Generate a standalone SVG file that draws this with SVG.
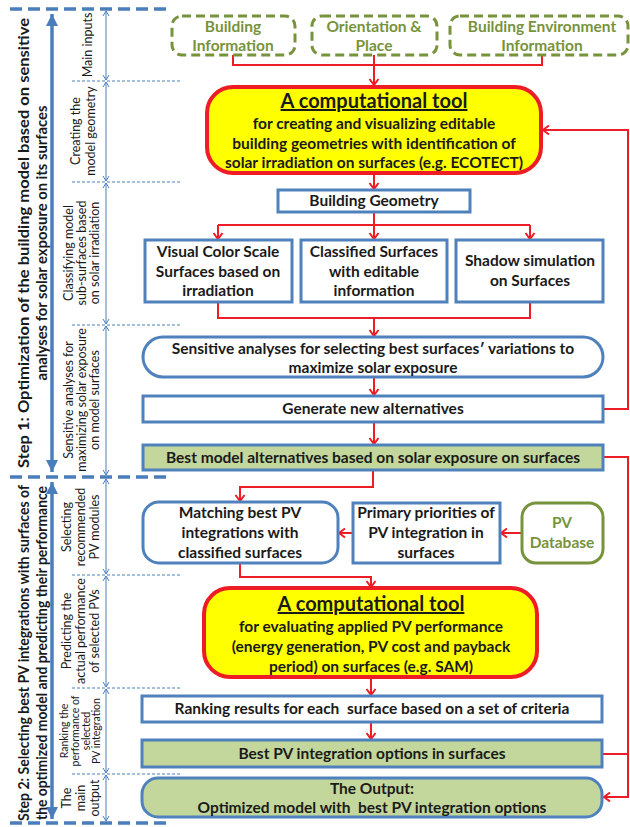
<svg xmlns="http://www.w3.org/2000/svg" width="630" height="827" viewBox="0 0 630 827">
<style>
.box{fill:#fff;stroke:#4f81bd;stroke-width:3}
.green{fill:#c3d69b;stroke:#4f81bd;stroke-width:3}
.tool{fill:#ffff00;stroke:#ee1c24;stroke-width:4}
.input{fill:#fff;stroke:#77933c;stroke-width:3;stroke-dasharray:9 5}
.pvdb{fill:#fff;stroke:#77933c;stroke-width:3}
.t{font-family:Lato,"Liberation Sans",sans-serif;font-weight:bold;font-size:15.5px;fill:#1a1a1a;text-anchor:middle}
.ol{fill:#77933c}
.title{font-size:20px;text-decoration:underline}
.lbl{font-weight:normal;font-size:12.5px}
.sm{font-size:10.5px}
.step{font-size:15px}
.red{fill:none;stroke:#ee1c24;stroke-width:2}
.thick{stroke:#4a7ebb;stroke-width:3.5;fill:none}
.dash{stroke:#4a7ebb;stroke-width:3.5;stroke-dasharray:12 6;fill:none}
.thin{stroke:#4a7ebb;stroke-width:1;fill:none}
.dot{stroke:#4a7ebb;stroke-width:1;stroke-dasharray:3 2;fill:none}
</style>
<defs>
<marker id="ra" markerUnits="userSpaceOnUse" markerWidth="12" markerHeight="12" refX="10" refY="6" orient="auto"><path d="M4,1.5 L10,6 L4,10.5" fill="none" stroke="#ee1c24" stroke-width="2"/></marker>
<marker id="ba" markerUnits="userSpaceOnUse" markerWidth="14" markerHeight="14" refX="12" refY="7" orient="auto-start-reverse"><path d="M0,1 L12,7 L0,13 Z" fill="#4a7ebb"/></marker>
<marker id="ta" markerUnits="userSpaceOnUse" markerWidth="8" markerHeight="8" refX="7" refY="4" orient="auto-start-reverse"><path d="M2,1 L7,4 L2,7" fill="none" stroke="#4a7ebb" stroke-width="1"/></marker>
</defs>
<rect width="630" height="827" fill="#fff"/>

<g id="left-frame">
<path class="dash" d="M10,9 H168 M10,477 H168 M10,823 H168"/>
<path class="thick" d="M52,14 V472" marker-start="url(#ba)" marker-end="url(#ba)"/>
<path class="thick" d="M52,482 V819" marker-start="url(#ba)" marker-end="url(#ba)"/>
<path class="dot" d="M72,81 H182 M72,182 H182 M72,325 H182 M72,575 H182 M72,688 H182 M72,774 H182"/>
<g marker-start="url(#ta)" marker-end="url(#ta)" class="thin">
<path d="M106,11 V80"/><path d="M106,82 V181"/><path d="M106,183 V324"/><path d="M106,326 V475"/>
<path d="M106,479 V574"/><path d="M106,576 V687"/><path d="M106,689 V773"/><path d="M106,775 V821"/>
</g>
<text class="t step" transform="translate(29,243) rotate(-90)" textLength="450" lengthAdjust="spacingAndGlyphs">Step 1: Optimization of the building model based on sensitive</text>
<text class="t step" transform="translate(47,243) rotate(-90)" textLength="275" lengthAdjust="spacingAndGlyphs">analyses for solar exposure on its surfaces</text>
<text class="t step" transform="translate(29,653) rotate(-90)" textLength="336" lengthAdjust="spacingAndGlyphs">Step 2: Selecting best PV integrations with surfaces of</text>
<text class="t step" transform="translate(47,653) rotate(-90)" textLength="334" lengthAdjust="spacingAndGlyphs">the optimized model and predicting their performance</text>
<text class="t lbl" transform="translate(92,45) rotate(-90)">Main inputs</text>
<text class="t lbl" transform="translate(80,131) rotate(-90)">Creating the</text>
<text class="t lbl" transform="translate(95,131) rotate(-90)">model geometry</text>
<text class="t lbl" transform="translate(73,253) rotate(-90)">Classifying model</text>
<text class="t lbl" transform="translate(86,253) rotate(-90)">sub-surfaces based</text>
<text class="t lbl" transform="translate(99,253) rotate(-90)">on solar irradiation</text>
<text class="t lbl" transform="translate(73,400) rotate(-90)">Sensitive analyses for</text>
<text class="t lbl" transform="translate(86,400) rotate(-90)">maximizing solar exposure</text>
<text class="t lbl" transform="translate(99,400) rotate(-90)">on model surfaces</text>
<text class="t lbl" transform="translate(71,527) rotate(-90)">Selecting</text>
<text class="t lbl" transform="translate(85,527) rotate(-90)">recommended</text>
<text class="t lbl" transform="translate(99,527) rotate(-90)">PV modules</text>
<text class="t lbl" transform="translate(71,631) rotate(-90)">Predicting the</text>
<text class="t lbl" transform="translate(85,631) rotate(-90)">actual performance</text>
<text class="t lbl" transform="translate(99,631) rotate(-90)">of selected PVs</text>
<text class="t lbl sm" transform="translate(68,731) rotate(-90)">Ranking the</text>
<text class="t lbl sm" transform="translate(79,731) rotate(-90)">performance of</text>
<text class="t lbl sm" transform="translate(90,731) rotate(-90)">selected</text>
<text class="t lbl sm" transform="translate(100,731) rotate(-90)">PV integration</text>
<text class="t lbl" transform="translate(71,798) rotate(-90)">The</text>
<text class="t lbl" transform="translate(85,798) rotate(-90)">main</text>
<text class="t lbl" transform="translate(99,798) rotate(-90)">output</text>
</g>

<g id="connectors">
<path class="red" d="M233,55 V65 H542 V55"/>
<path class="red" d="M374,55 V85" marker-end="url(#ra)"/>
<path class="red" d="M374,173 V189" marker-end="url(#ra)"/>
<path class="red" d="M374,212 V225 M218,225 H530"/>
<path class="red" d="M218,225 V239" marker-end="url(#ra)"/>
<path class="red" d="M374,225 V239" marker-end="url(#ra)"/>
<path class="red" d="M530,225 V239" marker-end="url(#ra)"/>
<path class="red" d="M218,302 V318 H530 V302"/>
<path class="red" d="M374,318 V336" marker-end="url(#ra)"/>
<path class="red" d="M374,377 V395" marker-end="url(#ra)"/>
<path class="red" d="M374,422 V444" marker-end="url(#ra)"/>
<path class="red" d="M373,470 V487 H240 V501" marker-end="url(#ra)"/>
<path class="red" d="M603,409 H628 V130 H543" marker-end="url(#ra)"/>
<path class="red" d="M603,457 H628 V797 H604" marker-end="url(#ra)"/>
<path class="red" d="M602,754 H628"/>
<path class="red" d="M522,533 H501" marker-end="url(#ra)"/>
<path class="red" d="M353,533 H339" marker-end="url(#ra)"/>
<path class="red" d="M240,563 V577 H371 V587" marker-end="url(#ra)"/>
<path class="red" d="M371,677 V695" marker-end="url(#ra)"/>
<path class="red" d="M371,722 V739" marker-end="url(#ra)"/>
</g>

<g id="building-information">
<rect class="input" x="172" y="16" width="123" height="39" rx="10"/>
<text class="t ol" x="233" y="32">Building</text>
<text class="t ol" x="233" y="51">Information</text>
</g>
<g id="orientation-place">
<rect class="input" x="312" y="16" width="125" height="39" rx="10"/>
<text class="t ol" x="374" y="32">Orientation &amp;</text>
<text class="t ol" x="374" y="51">Place</text>
</g>
<g id="building-environment">
<rect class="input" x="450" y="16" width="178" height="39" rx="10"/>
<text class="t ol" x="542" y="32">Building Environment</text>
<text class="t ol" x="542" y="51">Information</text>
</g>

<g id="tool1">
<rect class="tool" x="207" y="87" width="334" height="86" rx="26"/>
<text class="t title" x="374" y="108">A computational tool</text>
<text class="t" x="374" y="129">for creating and visualizing editable</text>
<text class="t" x="374" y="149">building geometries with identification of</text>
<text class="t" x="374" y="168">solar irradiation on surfaces (e.g. ECOTECT)</text>
</g>

<g id="building-geometry">
<rect class="box" x="278" y="190" width="192" height="22"/>
<text class="t" x="374" y="206">Building Geometry</text>
</g>

<g id="visual-color">
<rect class="box" x="145" y="240" width="147" height="62"/>
<text class="t" x="218" y="257">Visual Color Scale</text>
<text class="t" x="218" y="277">Surfaces based on</text>
<text class="t" x="218" y="296">irradiation</text>
</g>
<g id="classified-surfaces">
<rect class="box" x="301" y="240" width="146" height="62"/>
<text class="t" x="374" y="257">Classified Surfaces</text>
<text class="t" x="374" y="277">with editable</text>
<text class="t" x="374" y="296">information</text>
</g>
<g id="shadow-simulation">
<rect class="box" x="456" y="240" width="147" height="62"/>
<text class="t" x="530" y="266">Shadow simulation</text>
<text class="t" x="530" y="286">on Surfaces</text>
</g>

<g id="sensitive-analyses">
<rect class="box" x="143" y="337" width="460" height="40" rx="20"/>
<text class="t" x="373" y="354">Sensitive analyses for selecting best surfaces′ variations to</text>
<text class="t" x="373" y="373">maximize solar exposure</text>
</g>

<g id="generate-alternatives">
<rect class="box" x="143" y="396" width="460" height="26"/>
<text class="t" x="373" y="414">Generate new alternatives</text>
</g>

<g id="best-model">
<rect class="green" x="143" y="445" width="460" height="25"/>
<text class="t" x="373" y="463">Best model alternatives based on solar exposure on surfaces</text>
</g>

<g id="matching">
<rect class="box" x="143" y="502" width="195" height="61" rx="16"/>
<text class="t" x="240" y="518">Matching best PV</text>
<text class="t" x="240" y="538">integrations with</text>
<text class="t" x="240" y="558">classified surfaces</text>
</g>
<g id="primary-priorities">
<rect class="box" x="353" y="503" width="147" height="60"/>
<text class="t" x="426" y="518">Primary priorities of</text>
<text class="t" x="426" y="538">PV integration in</text>
<text class="t" x="426" y="558">surfaces</text>
</g>
<g id="pv-database">
<rect class="pvdb" x="522" y="503" width="81" height="60" rx="14"/>
<text class="t ol" x="562" y="528">PV</text>
<text class="t ol" x="562" y="548">Database</text>
</g>

<g id="tool2">
<rect class="tool" x="204" y="588" width="333" height="89" rx="26"/>
<text class="t title" x="371" y="611">A computational tool</text>
<text class="t" x="371" y="632">for evaluating applied PV performance</text>
<text class="t" x="371" y="652">(energy generation, PV cost and payback</text>
<text class="t" x="371" y="672">period) on surfaces (e.g. SAM)</text>
</g>

<g id="ranking">
<rect class="box" x="142" y="696" width="460" height="26"/>
<text class="t" x="372" y="714" xml:space="preserve">Ranking results for each  surface based on a set of criteria</text>
</g>

<g id="best-pv">
<rect class="green" x="142" y="740" width="460" height="27"/>
<text class="t" x="372" y="759">Best PV integration options in surfaces</text>
</g>

<g id="output">
<rect class="green" x="142" y="778" width="460" height="39" rx="16"/>
<text class="t" x="372" y="794">The Output:</text>
<text class="t" x="372" y="813" xml:space="preserve">Optimized model with  best PV integration options</text>
</g>
</svg>
